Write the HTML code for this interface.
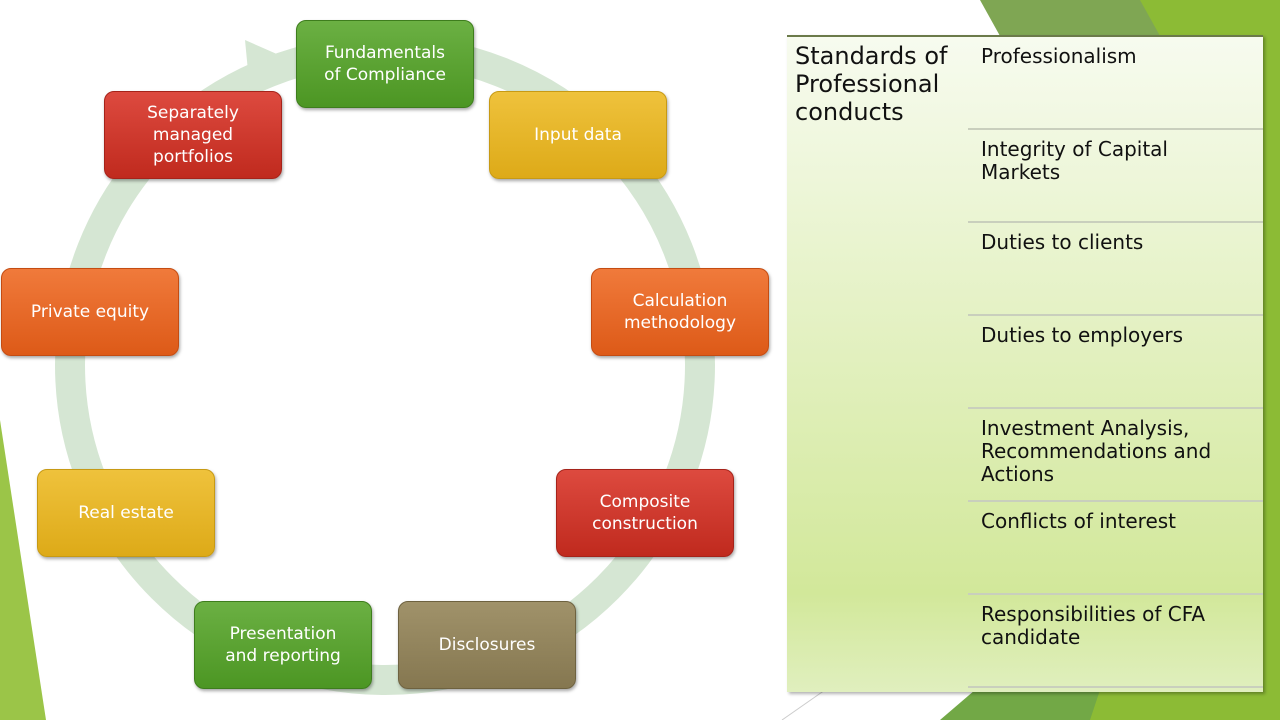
<!DOCTYPE html>
<html><head><style>
body{margin:0;width:1280px;height:720px;overflow:hidden;background:#fff;position:relative;font-family:"DejaVu Sans","Liberation Sans",sans-serif;}
.b{position:absolute;width:178px;height:88px;border-radius:10px;color:#fff;font-size:17px;line-height:22px;display:flex;align-items:center;justify-content:center;text-align:center;box-shadow:1px 2px 3px rgba(0,0,0,.35);box-sizing:border-box;}
.g{background:linear-gradient(#6bb043,#4c9623);border:1px solid #3e7d1d}
.y{background:linear-gradient(#efc23c,#ddaa18);border:1px solid #c79a14}
.o{background:linear-gradient(#f07a3b,#dd5a18);border:1px solid #c44c12}
.r{background:linear-gradient(#dd4a3f,#c02a1e);border:1px solid #a5231a}
.k{background:linear-gradient(#a0926a,#857750);border:1px solid #6e6240}
.tbl{position:absolute;left:787px;top:35px;width:476px;height:655px;background:linear-gradient(#f7fbef,#d2e89a 85%,#e0efbe);border-top:2px solid #6b7a4a;box-shadow:2px 2px 3px rgba(0,0,0,.3);}
.row{position:absolute;left:181px;right:0;height:93px;border-bottom:2px solid #c9cfbd;font-size:20px;line-height:23px;padding:8px 0 0 13px;box-sizing:border-box;color:#111}
.hd{position:absolute;left:8px;top:5px;font-size:24px;line-height:28px;color:#111}
</style></head><body>
<svg width="1280" height="720" style="position:absolute;left:0;top:0">
<polygon points="0,420 46,720 0,720" fill="#9bc548"/>
<polygon points="980,0 1280,0 1280,36 1000,36" fill="#7fa653"/>
<polygon points="1140,0 1280,0 1280,36 1160,36" fill="#8cbb35"/>
<rect x="1262" y="0" width="18" height="720" fill="#8cbb35"/>
<polygon points="940,720 975,690 1280,690 1280,720" fill="#72a846"/>
<polygon points="1100,690 1280,690 1280,720 1090,720" fill="#8cbb35"/>
<line x1="782" y1="720" x2="825" y2="690" stroke="#ccc" stroke-width="1"/>
<circle cx="385" cy="365" r="315" fill="none" stroke="#d5e6d3" stroke-width="30"/>
<polygon points="245,40 295,62 250,92" fill="#d5e6d3"/>
</svg>
<div class="b g" style="left:296px;top:20px">Fundamentals<br>of Compliance</div>
<div class="b y" style="left:489px;top:91px">Input data</div>
<div class="b o" style="left:591px;top:268px">Calculation<br>methodology</div>
<div class="b r" style="left:556px;top:469px">Composite<br>construction</div>
<div class="b k" style="left:398px;top:601px">Disclosures</div>
<div class="b g" style="left:194px;top:601px">Presentation<br>and reporting</div>
<div class="b y" style="left:37px;top:469px">Real estate</div>
<div class="b o" style="left:1px;top:268px">Private equity</div>
<div class="b r" style="left:104px;top:91px">Separately<br>managed<br>portfolios</div>
<div class="tbl">
<div class="hd">Standards of<br>Professional<br>conducts</div>
<div class="row" style="top:0">Professionalism</div>
<div class="row" style="top:93px">Integrity of Capital<br>Markets</div>
<div class="row" style="top:186px">Duties to clients</div>
<div class="row" style="top:279px">Duties to employers</div>
<div class="row" style="top:372px">Investment Analysis,<br>Recommendations and<br>Actions</div>
<div class="row" style="top:465px">Conflicts of interest</div>
<div class="row" style="top:558px">Responsibilities of CFA<br>candidate</div>
</div>
</body></html>
